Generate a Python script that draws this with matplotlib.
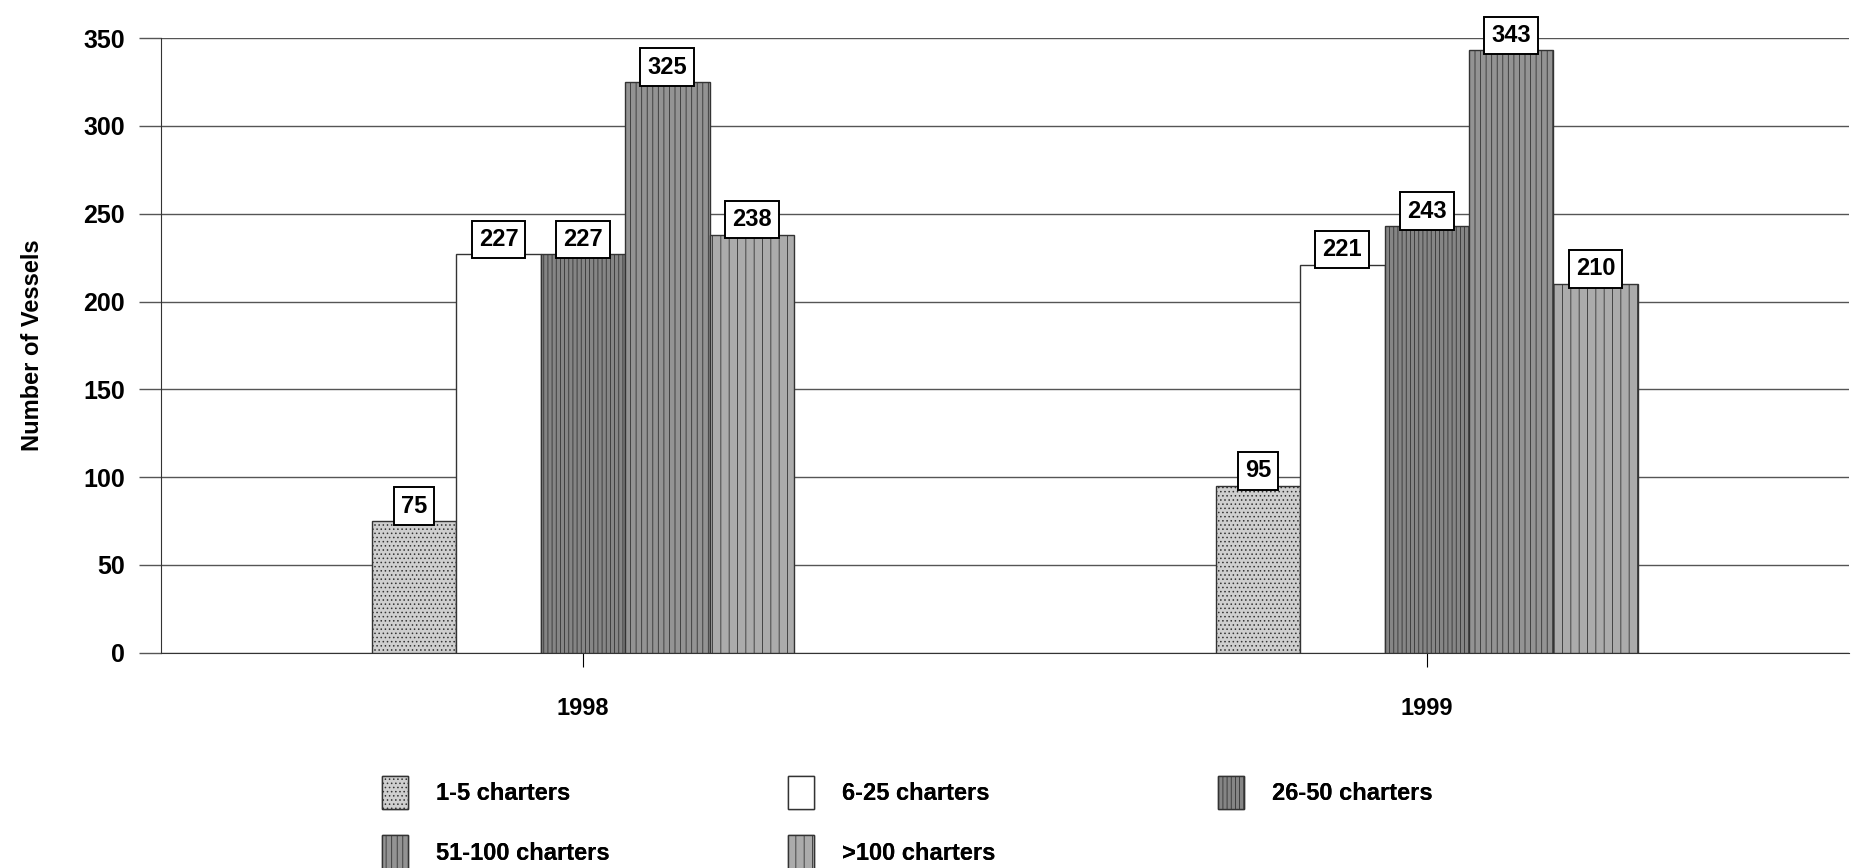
import numpy as np
import matplotlib
matplotlib.use("Agg")
import matplotlib.pyplot as plt

years = ["1998", "1999"]
groups = ["1-5 charters", "6-25 charters", "26-50 charters", "51-100 charters", ">100 charters"]
v_1_5 = [75, 95]
v_6_25 = [227, 221]
v_26_50 = [227, 243]
v_51_100 = [325, 343]
v_100 = [238, 210]
labels_1998 = ["75", "227", "227", "325", "238"]
labels_1999 = ["95", "221", "243", "343", "210"]

series = [v_1_5, v_6_25, v_26_50, v_51_100, v_100]
colors = ["#cfcfcf", "#ffffff", "#858585", "#939393", "#ababab"]
hatches = ["....", "", "||||", "|||", "||"]

plt.rcParams["font.family"] = ["Liberation Sans", "DejaVu Sans"]
plt.rcParams["hatch.color"] = "#555555"
plt.rcParams["hatch.linewidth"] = 0.6

fig = plt.figure(figsize=(18.73, 8.68), dpi=100)
ax = fig.add_axes([0.086, 0.248, 0.901, 0.708])

x = np.arange(len(years))
w = 0.1
handles = []
for i, vals in enumerate(series):
    pos = x + (i - 2) * w
    b = ax.bar(pos, vals, width=w, color=colors[i], hatch=hatches[i],
               edgecolor="#333333", linewidth=1.0, zorder=3, label=groups[i])
    handles.append(b)
    for j, v in enumerate(vals):
        txt = [labels_1998, labels_1999][j][i]
        ax.text(pos[j], v + 2, txt, ha="center", va="bottom", fontsize=17,
                fontweight="bold", zorder=5, clip_on=False,
                bbox=dict(boxstyle="square,pad=0.3", fc="white", ec="black", lw=1.4))

ax.set_xlim(-0.5, 1.5)
ax.set_ylim(0, 350)
ax.set_yticks(range(0, 351, 50))
ax.set_xticks(x)
ax.set_xticklabels(years, fontsize=17, fontweight="bold")
ax.tick_params(axis="y", labelsize=18, length=16, width=1, color="#555555", pad=10)
for t in ax.get_yticklabels():
    t.set_fontweight("bold")
ax.tick_params(axis="x", length=10, pad=22)
ax.yaxis.grid(True, color="#555555", linewidth=1.0, zorder=0)
ax.set_axisbelow(True)
for s in ["top", "right"]:
    ax.spines[s].set_visible(False)
ax.spines["left"].set_color("#333333")
ax.spines["bottom"].set_color("#333333")
ax.set_ylabel("Number of Vessels", fontsize=17, fontweight="bold", labelpad=28)

# legend laid out row-wise as in the original, one legend per column
cols = [[0, 3], [1, 4], [2]]
col_x = [382, 788, 1218]
for idx, cx in zip(cols, col_x):
    leg = fig.legend([handles[k] for k in idx], [groups[k] for k in idx],
                     loc="upper left", bbox_to_anchor=(cx / 1873, 1 - 776 / 868),
                     frameon=False, borderpad=0, borderaxespad=0,
                     handlelength=1.1, handleheight=1.8, handletextpad=1.2,
                     labelspacing=1.1, prop={"weight": "bold", "size": 17})
    fig.add_artist(leg)

fig.savefig("out.png", dpi=100, facecolor="white")
